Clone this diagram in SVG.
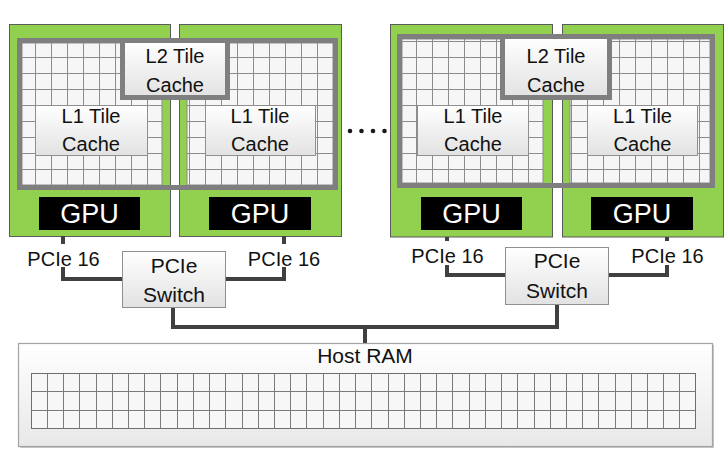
<svg xmlns="http://www.w3.org/2000/svg" width="728" height="464" viewBox="0 0 728 464">
<defs>
<linearGradient id="boxg" x1="0" y1="0" x2="0" y2="1"><stop offset="0" stop-color="#ffffff"/><stop offset="1" stop-color="#e2e2e2"/></linearGradient>
<linearGradient id="ramg" x1="0" y1="0" x2="0" y2="1"><stop offset="0" stop-color="#ffffff"/><stop offset="1" stop-color="#e8e8e8"/></linearGradient>
<pattern id="cells" width="16" height="16" patternUnits="userSpaceOnUse"><rect width="16" height="16" fill="#f6f6f6"/><path d="M0.5,0V16M0,0.5H16" stroke="#8c8c8c" stroke-width="1" fill="none"/></pattern>
</defs>
<style>
.gpu{fill:#92d050;stroke:#5b5b5b;stroke-width:1}
.grid{fill:url(#cells);stroke:#8c8c8c;stroke-width:1}
.box{fill:url(#boxg);stroke:#8f8f8f;stroke-width:1}
.l2frame{fill:none;stroke:#7f7f7f;stroke-width:5}
.l2box{fill:url(#boxg);stroke:#7f7f7f;stroke-width:5}
.lbl{fill:#000}
.t{font-family:"Liberation Sans",Arial,sans-serif;font-size:20px;fill:#111;text-anchor:middle}
.t21{font-size:21px}
.gput{font-family:"Liberation Sans",Arial,sans-serif;font-size:27px;fill:#fff;text-anchor:middle}
.conn{fill:none;stroke:#404040;stroke-width:4}
.ramline{fill:none;stroke:#7a7a7a;stroke-width:1}
</style>
<rect width="728" height="464" fill="#fff"/>

<g id="gpu1">
<rect class="gpu" x="9.5" y="24.5" width="161" height="212"/>
<g transform="translate(19,41)"><rect class="grid" x="3" y="2" width="140" height="142"/></g>
<rect class="box" x="35.5" y="105.5" width="112" height="50"/>
<text class="t" x="91" y="123">L1 Tile</text>
<text class="t" x="91" y="151">Cache</text>
<rect class="lbl" x="39" y="197" width="101" height="33"/>
<text class="gput" x="89.5" y="223">GPU</text>
</g>

<g id="gpu2">
<rect class="gpu" x="179.5" y="24.5" width="162" height="212"/>
<g transform="translate(189,41)"><rect class="grid" x="-2" y="2" width="146" height="142"/></g>
<rect class="box" x="205.5" y="105.5" width="110" height="50"/>
<text class="t" x="260" y="123">L1 Tile</text>
<text class="t" x="260" y="151">Cache</text>
<rect class="lbl" x="209" y="197" width="102" height="33"/>
<text class="gput" x="260" y="223">GPU</text>
</g>

<g id="gpu3">
<rect class="gpu" x="390.5" y="24.5" width="162" height="212.5"/>
<g transform="translate(400,41)"><rect class="grid" x="2" y="-2" width="141" height="144"/></g>
<rect class="box" x="417.5" y="105.5" width="111" height="50"/>
<text class="t" x="473" y="123">L1 Tile</text>
<text class="t" x="473" y="151">Cache</text>
<rect class="lbl" x="421" y="197" width="101" height="33"/>
<text class="gput" x="471.5" y="223">GPU</text>
</g>

<g id="gpu4">
<rect class="gpu" x="562.5" y="24.5" width="161" height="212.5"/>
<g transform="translate(571,41)"><rect class="grid" x="-1" y="-2" width="140" height="144"/></g>
<rect class="box" x="587.5" y="105.5" width="110" height="50"/>
<text class="t" x="642.5" y="123">L1 Tile</text>
<text class="t" x="642.5" y="151">Cache</text>
<rect class="lbl" x="591" y="197" width="102" height="33"/>
<text class="gput" x="642" y="223">GPU</text>
</g>

<g id="l2-left">
<rect class="l2frame" x="19.5" y="40.5" width="316" height="147"/>
<rect class="l2box" x="122.5" y="40.5" width="105" height="57"/>
<text class="t" x="175" y="63">L2 Tile</text>
<text class="t" x="175" y="92">Cache</text>
</g>

<g id="l2-right">
<rect class="l2frame" x="399.5" y="36.5" width="313" height="149"/>
<rect class="l2box" x="502.5" y="36.5" width="107" height="61"/>
<text class="t" x="556" y="63">L2 Tile</text>
<text class="t" x="556" y="92">Cache</text>
</g>

<g id="ellipsis" fill="#1a1a1a">
<circle cx="350" cy="131" r="2.3"/>
<circle cx="361.5" cy="131" r="2.3"/>
<circle cx="373" cy="131" r="2.3"/>
<circle cx="384.5" cy="131" r="2.3"/>
</g>

<g id="connectors">
<path class="conn" d="M63,236V244M63,267V279H122"/>
<path class="conn" d="M284,236V244M284,267V279H226"/>
<path class="conn" d="M173,308V327H365"/>
<path class="conn" d="M447,237V241M447,265V275H505"/>
<path class="conn" d="M667,237V241M667,265V275H609"/>
<path class="conn" d="M557,305V327H365V343"/>
</g>

<g id="pcie-labels">
<text class="t" x="63.5" y="266">PCIe 16</text>
<text class="t" x="284" y="266">PCIe 16</text>
<text class="t" x="447.5" y="263">PCIe 16</text>
<text class="t" x="667.5" y="263">PCIe 16</text>
</g>

<g id="switch1">
<rect class="box" x="122.5" y="251.5" width="103" height="56"/>
<text class="t t21" x="174" y="273">PCIe</text>
<text class="t t21" x="174" y="302">Switch</text>
</g>

<g id="switch2">
<rect class="box" x="505.5" y="247.5" width="103" height="57"/>
<text class="t t21" x="557" y="268">PCIe</text>
<text class="t t21" x="557" y="298">Switch</text>
</g>

<g id="host-ram">
<rect x="20" y="345" width="694" height="103" fill="#c8c8c8"/>
<rect x="18.5" y="343.5" width="694" height="103" fill="url(#ramg)" stroke="#a3a3a3" stroke-width="1.2"/>
<text class="t t21" x="365" y="363">Host RAM</text>
<rect x="31.5" y="373.5" width="664" height="55" fill="#f7f7f7" stroke="#6e6e6e" stroke-width="1"/>
<path class="ramline" d="M31.5,391.5H695.5M31.5,410.5H695.5"/>
<path class="ramline" d="M47.5,373.5V428.5M63.5,373.5V428.5M79.5,373.5V428.5M96.5,373.5V428.5M112.5,373.5V428.5M128.5,373.5V428.5M144.5,373.5V428.5M160.5,373.5V428.5M177.5,373.5V428.5M193.5,373.5V428.5M209.5,373.5V428.5M225.5,373.5V428.5M242.5,373.5V428.5M258.5,373.5V428.5M274.5,373.5V428.5M290.5,373.5V428.5M306.5,373.5V428.5M323.5,373.5V428.5M339.5,373.5V428.5M355.5,373.5V428.5M371.5,373.5V428.5M388.5,373.5V428.5M404.5,373.5V428.5M420.5,373.5V428.5M436.5,373.5V428.5M452.5,373.5V428.5M469.5,373.5V428.5M485.5,373.5V428.5M501.5,373.5V428.5M517.5,373.5V428.5M534.5,373.5V428.5M550.5,373.5V428.5M566.5,373.5V428.5M582.5,373.5V428.5M598.5,373.5V428.5M615.5,373.5V428.5M631.5,373.5V428.5M647.5,373.5V428.5M663.5,373.5V428.5M679.5,373.5V428.5"/>
</g>
</svg>
